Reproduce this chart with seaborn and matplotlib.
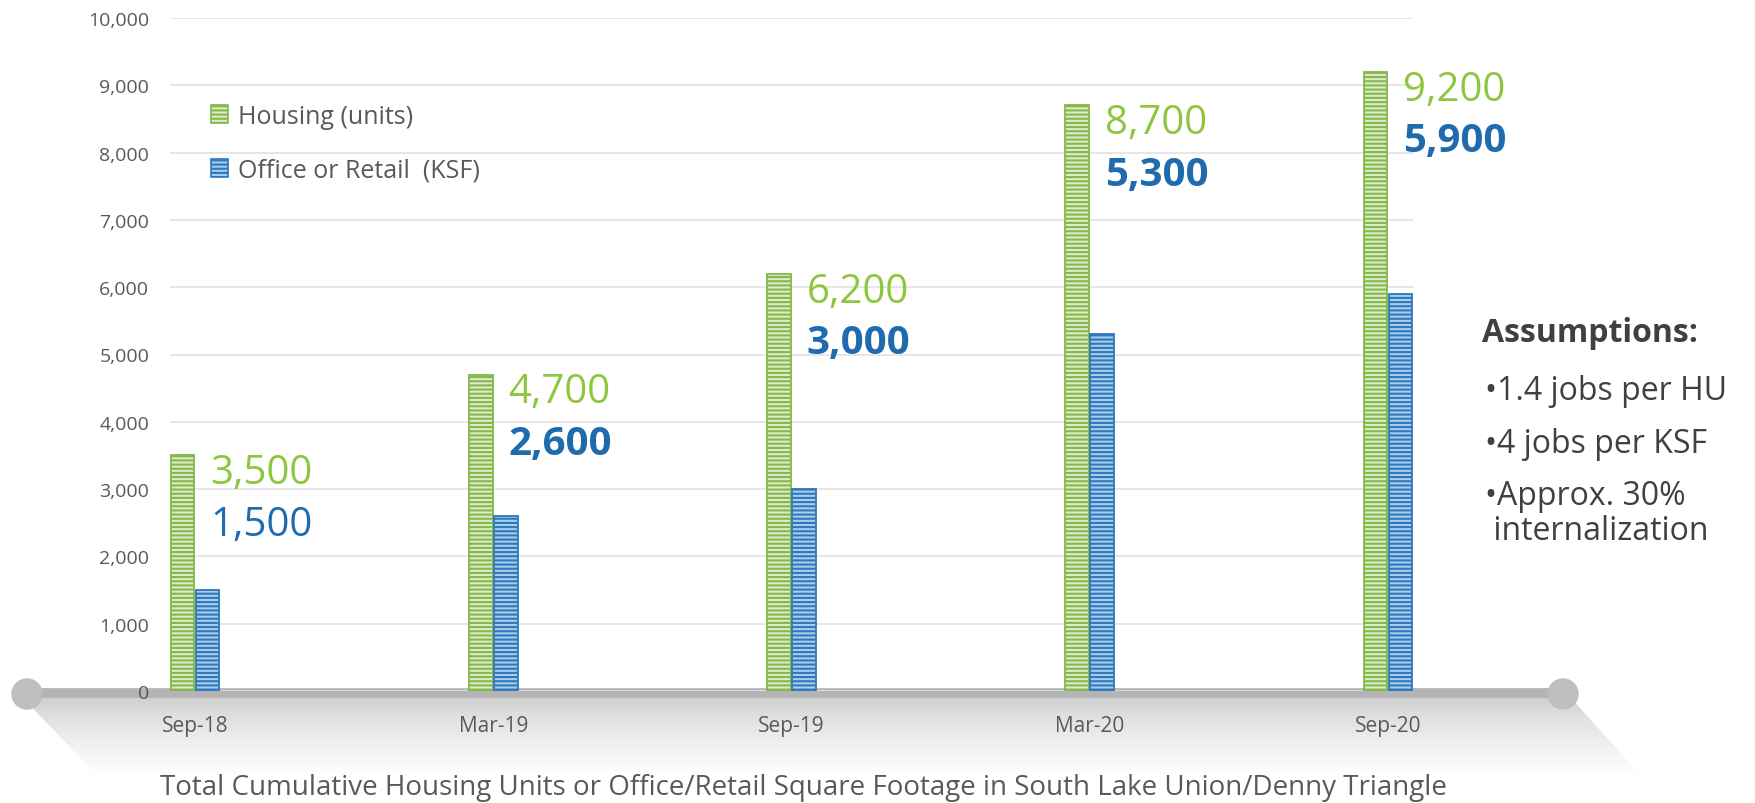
import numpy as np
import pandas as pd
import matplotlib
matplotlib.use("Agg")
import matplotlib.pyplot as plt
from matplotlib.patches import Patch, Circle, Polygon
from matplotlib.ticker import FuncFormatter
import seaborn as sns

# ---- data ----
periods = ["Sep-18", "Mar-19", "Sep-19", "Mar-20", "Sep-20"]
housing_units = [3500, 4700, 6200, 8700, 9200]
office_ksf = [1500, 2600, 3000, 5300, 5900]
series_names = ["Housing (units)", "Office or Retail  (KSF)"]
y_ticks = [0, 1000, 2000, 3000, 4000, 5000, 6000, 7000, 8000, 9000, 10000]
office_label_weights = ["normal", "bold", "bold", "bold", "bold"]
assumption_title = "Assumptions:"
assumption_lines = ["•1.4 jobs per HU", "•4 jobs per KSF", "•Approx. 30%", " internalization"]
bottom_title = ("Total Cumulative Housing Units or Office/Retail Square Footage "
                "in South Lake Union/Denny Triangle")

# ---- style ----
plt.rcParams["font.family"] = ["Open Sans", "DejaVu Sans"]
plt.rcParams["hatch.linewidth"] = 1.5
GREEN_EDGE = "#84B848"
GREEN_FACE = "#DCEBCB"
BLUE_EDGE = "#2E78BC"
BLUE_FACE = "#A9CDEC"
GREEN_TXT = "#8DC63F"
BLUE_TXT = "#1F6BAE"
TXT = "#595959"

W, H = 1756, 804
fig = plt.figure(figsize=(W / 100, H / 100), dpi=100)

# background decoration axes in pixel coordinates
bg = fig.add_axes([0, 0, 1, 1], zorder=0)
bg.set_xlim(0, W)
bg.set_ylim(H, 0)
bg.axis("off")

poly = Polygon([(22, 698), (1570, 698), (1655, 792), (112, 792)], closed=True,
               facecolor="none", edgecolor="none")
bg.add_patch(poly)
t = np.linspace(0, 1, 200)
grad = (0.80 + 0.20 * np.clip(t / 0.85, 0, 1) ** 0.7).reshape(-1, 1)
im = bg.imshow(grad, extent=[0, W, 792, 698], cmap="gray", vmin=0, vmax=1,
               aspect="auto", origin="upper", interpolation="bilinear")
im.set_clip_path(poly)
bg.plot([27, 1563], [694, 694], color="#b4b4b4", lw=7, solid_capstyle="butt", zorder=3)
bg.add_patch(Circle((27, 695), 15, color="#bfbfbf", zorder=4))
bg.add_patch(Circle((1563, 695), 15, color="#bfbfbf", zorder=4))

# main chart
ax = fig.add_axes([170 / W, 1 - 692 / H, (1413 - 170) / W, (692 - 19) / H], zorder=1)
ax.patch.set_alpha(0)

df = pd.DataFrame({
    "period": periods * 2,
    "value": housing_units + office_ksf,
    "series": [series_names[0]] * len(periods) + [series_names[1]] * len(periods),
})
sns.barplot(data=df, x="period", y="value", hue="series", order=periods,
            hue_order=series_names, palette=[GREEN_FACE, BLUE_FACE],
            width=0.168, gap=0.06, errorbar=None, legend=False, ax=ax)

for cont, (face, edge) in zip(ax.containers, [(GREEN_FACE, GREEN_EDGE), (BLUE_FACE, BLUE_EDGE)]):
    for bar in cont:
        bar.set_facecolor(face)
        bar.set_edgecolor(edge)
        bar.set_hatch("----")
        bar.set_linewidth(1.3)

ax.set_xlim(-0.084, len(periods) - 1 + 0.084)
ax.set_ylim(0, 10000)
ax.set_yticks(y_ticks)
ax.yaxis.set_major_formatter(FuncFormatter(lambda v, p: f"{int(v):,}"))
ax.set_xlabel("")
ax.set_ylabel("")
for s in ax.spines.values():
    s.set_visible(False)
ax.yaxis.grid(True, color="#e2e2e2", lw=1.2)
ax.xaxis.grid(False)
ax.set_axisbelow(True)
ax.tick_params(axis="y", length=0, pad=15, labelsize=14, labelcolor=TXT)
ax.tick_params(axis="x", length=0, pad=17, labelsize=15, labelcolor=TXT)

# value labels
for i, (hv, ov, wt) in enumerate(zip(housing_units, office_ksf, office_label_weights)):
    ax.annotate(f"{hv:,}", xy=(i, hv), xytext=(11, -20), textcoords="offset points",
                ha="left", va="baseline", fontsize=29, color=GREEN_TXT, annotation_clip=False)
    ax.annotate(f"{ov:,}", xy=(i, hv), xytext=(11, -57), textcoords="offset points",
                ha="left", va="baseline", fontsize=29, color=BLUE_TXT, fontweight=wt,
                annotation_clip=False)

# legend
handles = [Patch(facecolor=GREEN_FACE, edgecolor=GREEN_EDGE, hatch="----", lw=1.2),
           Patch(facecolor=BLUE_FACE, edgecolor=BLUE_EDGE, hatch="----", lw=1.2)]
leg = ax.legend(handles, series_names, loc="upper left",
                bbox_to_anchor=(211 / W, 1 - 105 / H), bbox_transform=fig.transFigure,
                frameon=False, fontsize=18, handlelength=0.7, handleheight=0.75,
                handletextpad=0.4, labelspacing=1.15, borderaxespad=0, borderpad=0)
for tx in leg.get_texts():
    tx.set_color(TXT)

# assumptions
bg.text(1482, 342, assumption_title, fontsize=23, fontweight="bold", color="#404040",
        ha="left", va="baseline")
for txt, yb in zip(assumption_lines, [400, 453, 505, 540]):
    bg.text(1485, yb, txt, fontsize=23, color="#404040", ha="left", va="baseline")

bg.text(160, 795, bottom_title, fontsize=20, color=TXT, ha="left", va="baseline")

fig.savefig("out.png", dpi=100)
